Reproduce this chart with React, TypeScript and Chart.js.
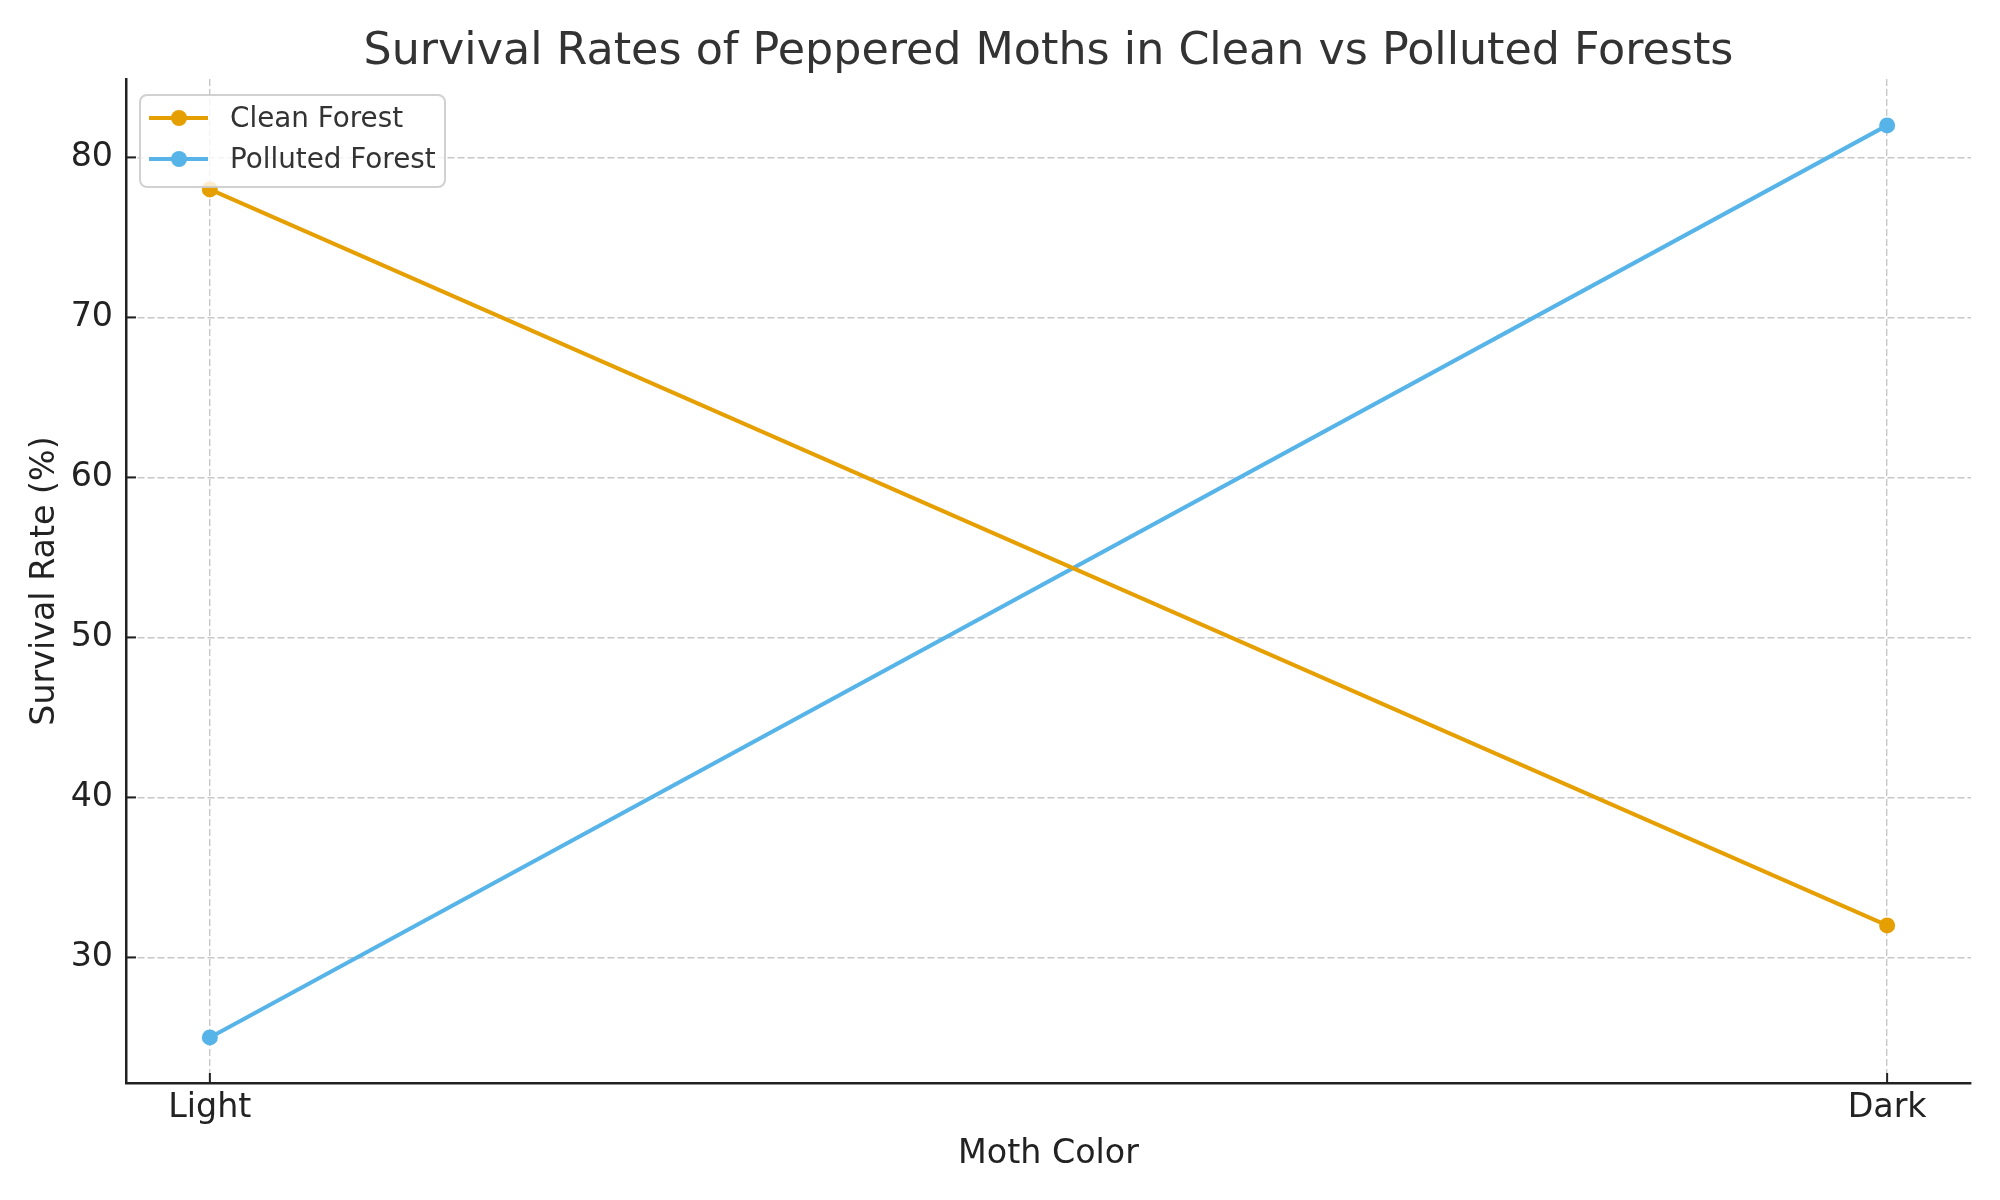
import React, { useEffect, useRef } from "react";
import { Chart, registerables } from "chart.js";

Chart.register(...registerables);

const categories = ["Light", "Dark"];
const cleanForest = [78, 32];
const pollutedForest = [25, 82];
const yTickValues = [30, 40, 50, 60, 70, 80];
const seriesNames = ["Clean Forest", "Polluted Forest"];
const seriesColors = ["#E69F00", "#56B4E9"];

const FONT = "'DejaVu Sans', sans-serif";

const innerTicksPlugin = {
  id: "innerTicks",
  beforeDatasetsDraw(chart: any) {
    const ctx = chart.ctx;
    const { left, bottom } = chart.chartArea;
    const xs = chart.scales.x;
    const ys = chart.scales.y;
    ctx.save();
    ctx.strokeStyle = "#222222";
    ctx.lineWidth = 2;
    ys.ticks.forEach((t: any) => {
      const py = ys.getPixelForValue(t.value);
      ctx.beginPath();
      ctx.moveTo(left, py);
      ctx.lineTo(left + 10, py);
      ctx.stroke();
    });
    xs.ticks.forEach((t: any) => {
      const px = xs.getPixelForValue(t.value);
      ctx.beginPath();
      ctx.moveTo(px, bottom);
      ctx.lineTo(px, bottom - 10);
      ctx.stroke();
    });
    ctx.restore();
  },
};

const boxLegendPlugin = {
  id: "boxLegend",
  afterDatasetsDraw(chart: any) {
    const ctx = chart.ctx;
    const { left, top } = chart.chartArea;
    const bx = left + 14;
    const by = top + 16;
    const bw = 305;
    const bh = 92;
    ctx.save();
    ctx.beginPath();
    ctx.roundRect(bx, by, bw, bh, 7);
    ctx.fillStyle = "rgba(255,255,255,0.8)";
    ctx.fill();
    ctx.strokeStyle = "rgba(204,204,204,0.9)";
    ctx.lineWidth = 2;
    ctx.stroke();
    chart.data.datasets.forEach((ds: any, i: number) => {
      const cy = by + 23 + i * 41;
      ctx.strokeStyle = ds.borderColor;
      ctx.lineWidth = 4;
      ctx.beginPath();
      ctx.moveTo(bx + 9, cy);
      ctx.lineTo(bx + 68, cy);
      ctx.stroke();
      ctx.fillStyle = ds.borderColor;
      ctx.beginPath();
      ctx.arc(bx + 39, cy, 8, 0, Math.PI * 2);
      ctx.fill();
      ctx.fillStyle = "#333333";
      ctx.font = `27.8px ${FONT}`;
      ctx.textAlign = "left";
      ctx.textBaseline = "middle";
      ctx.fillText(ds.label, bx + 90, cy + 2);
    });
    ctx.restore();
  },
};

export default function App() {
  const ref = useRef<HTMLCanvasElement | null>(null);
  useEffect(() => {
    if (!ref.current) return;
    const seriesValues = [cleanForest, pollutedForest];
    const grid = {
      color: "#c8c8c8",
      lineWidth: 1.4,
      drawTicks: false,
    };
    const chart = new Chart(ref.current, {
      type: "line",
      data: {
        datasets: seriesValues.map((vals, si) => ({
          label: seriesNames[si],
          data: categories.map((_, i) => ({ x: i, y: vals[i] })),
          borderColor: seriesColors[si],
          backgroundColor: seriesColors[si],
          pointBackgroundColor: seriesColors[si],
          pointBorderWidth: 0,
          pointRadius: 8,
          borderWidth: 4,
          tension: 0,
          clip: false,
        })),
      },
      options: {
        responsive: false,
        animation: false,
        devicePixelRatio: 1,
        layout: { padding: { left: 0, top: 0, right: 29, bottom: 0 } },
        plugins: {
          legend: { display: false },
          tooltip: { enabled: false },
          title: {
            display: true,
            text: "Survival Rates of Peppered Moths in Clean vs Polluted Forests",
            fullSize: false,
            color: "#333333",
            font: { family: FONT, size: 44.4, weight: "normal" },
            padding: { top: 25.5, bottom: 0.2 },
          },
        },
        scales: {
          x: {
            type: "linear",
            min: -0.05,
            max: 1.05,
            afterBuildTicks: (scale: any) => {
              scale.ticks = categories.map((_, i) => ({ value: i }));
            },
            afterFit: (scale: any) => {
              scale.height = 117;
            },
            ticks: {
              callback: (v: any) => categories[v as number] ?? "",
              color: "#222222",
              font: { family: FONT, size: 33.3 },
              padding: 5,
              maxRotation: 0,
            },
            grid: { ...grid },
            border: { display: true, color: "#222222", width: 2.5, dash: [7, 3] } as any,
            title: {
              display: true,
              text: "Moth Color",
              color: "#222222",
              font: { family: FONT, size: 33.3 },
              padding: { top: 0, bottom: 26 },
            },
          },
          y: {
            type: "linear",
            min: 22.15,
            max: 84.9,
            afterBuildTicks: (scale: any) => {
              scale.ticks = yTickValues.map((v) => ({ value: v }));
            },
            afterFit: (scale: any) => {
              scale.width = 126;
            },
            ticks: {
              color: "#222222",
              font: { family: FONT, size: 33.3 },
              padding: 13,
            },
            grid: { ...grid },
            border: { display: true, color: "#222222", width: 2.5, dash: [7, 3] } as any,
            title: {
              display: true,
              text: "Survival Rate (%)",
              color: "#222222",
              font: { family: FONT, size: 33.3 },
              padding: { top: 25, bottom: 0 },
            },
          },
        },
      } as any,
      plugins: [innerTicksPlugin, boxLegendPlugin],
    });
    return () => chart.destroy();
  }, []);
  return (
    <div style={{ position: "absolute", left: 0, top: 0, width: 2000, height: 1200, background: "#ffffff" }}>
      <canvas ref={ref} width={2000} height={1200} style={{ width: 2000, height: 1200, display: "block" }} />
    </div>
  );
}
